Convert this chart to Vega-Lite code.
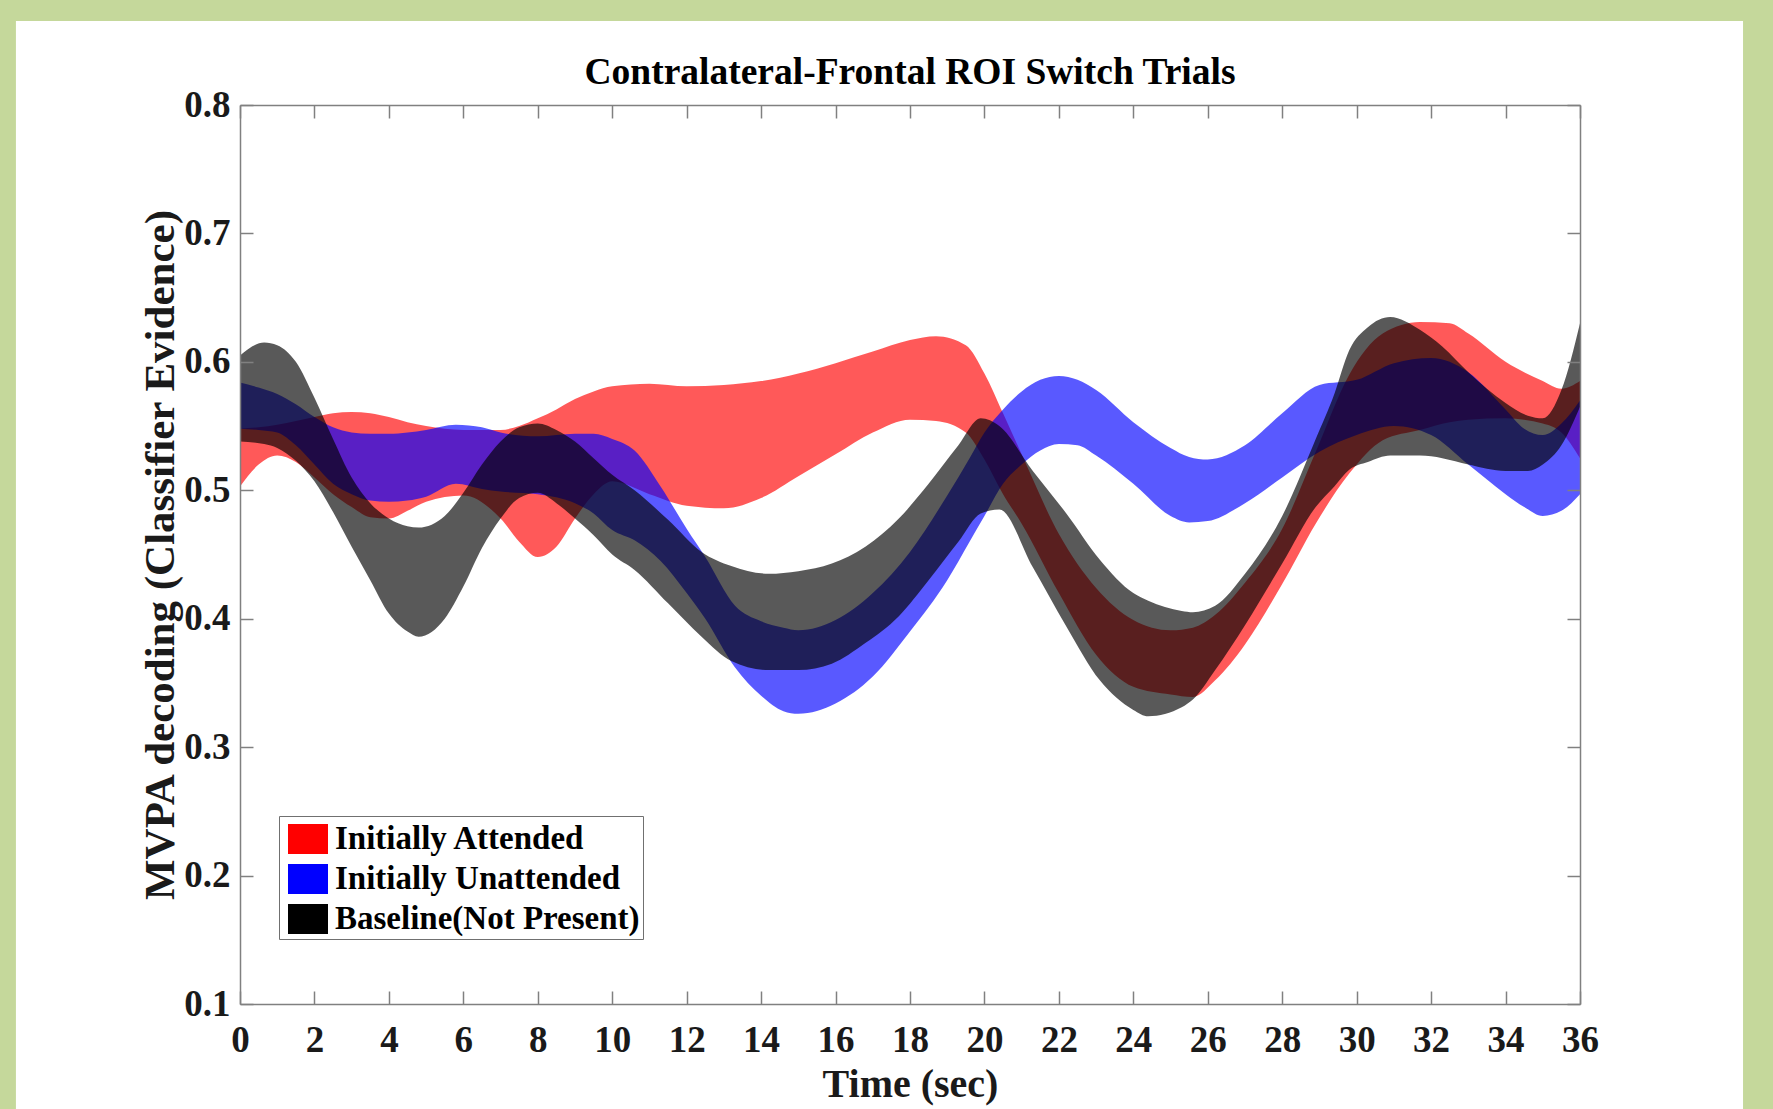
{
  "$schema": "https://vega.github.io/schema/vega-lite/v6.json",
  "width": 1340,
  "height": 899,
  "autosize": {"type": "none"},
  "padding": {"left": 240, "top": 105, "right": 193, "bottom": 105},
  "background": "#c5d89b",
  "title": {
    "text": "Contralateral-Frontal ROI Switch Trials",
    "font": "Liberation Serif",
    "fontSize": 37.5,
    "fontWeight": "bold",
    "color": "#000000",
    "anchor": "middle",
    "frame": "group",
    "baseline": "alphabetic",
    "offset": 0,
    "dy": 100
  },
  "config": {
    "view": {"stroke": null},
    "axis": {
      "grid": false,
      "domainColor": "#808080",
      "domainWidth": 1.5,
      "tickColor": "#808080",
      "tickWidth": 1.5,
      "tickSize": -13,
      "labelFont": "Liberation Serif",
      "labelFontWeight": "bold",
      "labelFontSize": 37,
      "labelColor": "#1a1a1a",
      "labelFlush": false,
      "labelOverlap": false,
      "titleFont": "Liberation Serif",
      "titleFontWeight": "bold",
      "titleFontSize": 40,
      "titleColor": "#1a1a1a"
    }
  },
  "datasets": {
    "bands": [
      {"series": "Initially Attended", "t": 0, "lo": 0.503, "hi": 0.548},
      {"series": "Initially Attended", "t": 0.5, "lo": 0.520, "hi": 0.549},
      {"series": "Initially Attended", "t": 1, "lo": 0.527, "hi": 0.551},
      {"series": "Initially Attended", "t": 1.5, "lo": 0.522, "hi": 0.554},
      {"series": "Initially Attended", "t": 2, "lo": 0.510, "hi": 0.557},
      {"series": "Initially Attended", "t": 2.5, "lo": 0.497, "hi": 0.560},
      {"series": "Initially Attended", "t": 3, "lo": 0.487, "hi": 0.561},
      {"series": "Initially Attended", "t": 3.5, "lo": 0.479, "hi": 0.560},
      {"series": "Initially Attended", "t": 4, "lo": 0.478, "hi": 0.557},
      {"series": "Initially Attended", "t": 4.5, "lo": 0.484, "hi": 0.553},
      {"series": "Initially Attended", "t": 5, "lo": 0.491, "hi": 0.550},
      {"series": "Initially Attended", "t": 6, "lo": 0.496, "hi": 0.547},
      {"series": "Initially Attended", "t": 7, "lo": 0.478, "hi": 0.547},
      {"series": "Initially Attended", "t": 7.5, "lo": 0.460, "hi": 0.550},
      {"series": "Initially Attended", "t": 8, "lo": 0.448, "hi": 0.556},
      {"series": "Initially Attended", "t": 8.5, "lo": 0.456, "hi": 0.563},
      {"series": "Initially Attended", "t": 9, "lo": 0.478, "hi": 0.571},
      {"series": "Initially Attended", "t": 9.5, "lo": 0.497, "hi": 0.577},
      {"series": "Initially Attended", "t": 10, "lo": 0.507, "hi": 0.581},
      {"series": "Initially Attended", "t": 11, "lo": 0.497, "hi": 0.583},
      {"series": "Initially Attended", "t": 12, "lo": 0.488, "hi": 0.581},
      {"series": "Initially Attended", "t": 13, "lo": 0.486, "hi": 0.582},
      {"series": "Initially Attended", "t": 14, "lo": 0.494, "hi": 0.585},
      {"series": "Initially Attended", "t": 15, "lo": 0.511, "hi": 0.591},
      {"series": "Initially Attended", "t": 16, "lo": 0.528, "hi": 0.599},
      {"series": "Initially Attended", "t": 17, "lo": 0.545, "hi": 0.608},
      {"series": "Initially Attended", "t": 18, "lo": 0.555, "hi": 0.617},
      {"series": "Initially Attended", "t": 18.7, "lo": 0.554, "hi": 0.620},
      {"series": "Initially Attended", "t": 19.5, "lo": 0.545, "hi": 0.613},
      {"series": "Initially Attended", "t": 20, "lo": 0.524, "hi": 0.591},
      {"series": "Initially Attended", "t": 20.5, "lo": 0.497, "hi": 0.560},
      {"series": "Initially Attended", "t": 21, "lo": 0.474, "hi": 0.528},
      {"series": "Initially Attended", "t": 22, "lo": 0.420, "hi": 0.466},
      {"series": "Initially Attended", "t": 23, "lo": 0.372, "hi": 0.424},
      {"series": "Initially Attended", "t": 24, "lo": 0.347, "hi": 0.399},
      {"series": "Initially Attended", "t": 25, "lo": 0.341, "hi": 0.391},
      {"series": "Initially Attended", "t": 25.6, "lo": 0.339, "hi": 0.393},
      {"series": "Initially Attended", "t": 26.2, "lo": 0.352, "hi": 0.403},
      {"series": "Initially Attended", "t": 27, "lo": 0.380, "hi": 0.428},
      {"series": "Initially Attended", "t": 28, "lo": 0.427, "hi": 0.470},
      {"series": "Initially Attended", "t": 28.9, "lo": 0.474, "hi": 0.530},
      {"series": "Initially Attended", "t": 29.8, "lo": 0.513, "hi": 0.590},
      {"series": "Initially Attended", "t": 30.7, "lo": 0.539, "hi": 0.622},
      {"series": "Initially Attended", "t": 31.7, "lo": 0.547, "hi": 0.631},
      {"series": "Initially Attended", "t": 32.5, "lo": 0.553, "hi": 0.630},
      {"series": "Initially Attended", "t": 33, "lo": 0.555, "hi": 0.622},
      {"series": "Initially Attended", "t": 34, "lo": 0.556, "hi": 0.600},
      {"series": "Initially Attended", "t": 35, "lo": 0.552, "hi": 0.585},
      {"series": "Initially Attended", "t": 35.5, "lo": 0.545, "hi": 0.579},
      {"series": "Initially Attended", "t": 36, "lo": 0.525, "hi": 0.585},

      {"series": "Initially Unattended", "t": 0, "lo": 0.548, "hi": 0.584},
      {"series": "Initially Unattended", "t": 0.5, "lo": 0.547, "hi": 0.580},
      {"series": "Initially Unattended", "t": 1, "lo": 0.545, "hi": 0.575},
      {"series": "Initially Unattended", "t": 1.5, "lo": 0.535, "hi": 0.567},
      {"series": "Initially Unattended", "t": 2, "lo": 0.520, "hi": 0.557},
      {"series": "Initially Unattended", "t": 2.5, "lo": 0.505, "hi": 0.549},
      {"series": "Initially Unattended", "t": 3, "lo": 0.497, "hi": 0.545},
      {"series": "Initially Unattended", "t": 3.5, "lo": 0.492, "hi": 0.544},
      {"series": "Initially Unattended", "t": 4, "lo": 0.491, "hi": 0.544},
      {"series": "Initially Unattended", "t": 4.5, "lo": 0.492, "hi": 0.545},
      {"series": "Initially Unattended", "t": 5, "lo": 0.495, "hi": 0.547},
      {"series": "Initially Unattended", "t": 5.8, "lo": 0.505, "hi": 0.551},
      {"series": "Initially Unattended", "t": 6.5, "lo": 0.501, "hi": 0.549},
      {"series": "Initially Unattended", "t": 7, "lo": 0.499, "hi": 0.545},
      {"series": "Initially Unattended", "t": 8, "lo": 0.497, "hi": 0.542},
      {"series": "Initially Unattended", "t": 9, "lo": 0.490, "hi": 0.544},
      {"series": "Initially Unattended", "t": 9.5, "lo": 0.482, "hi": 0.544},
      {"series": "Initially Unattended", "t": 10, "lo": 0.469, "hi": 0.540},
      {"series": "Initially Unattended", "t": 10.6, "lo": 0.461, "hi": 0.531},
      {"series": "Initially Unattended", "t": 11.3, "lo": 0.445, "hi": 0.503},
      {"series": "Initially Unattended", "t": 12, "lo": 0.420, "hi": 0.470},
      {"series": "Initially Unattended", "t": 12.5, "lo": 0.400, "hi": 0.448},
      {"series": "Initially Unattended", "t": 13.3, "lo": 0.362, "hi": 0.410},
      {"series": "Initially Unattended", "t": 14, "lo": 0.340, "hi": 0.398},
      {"series": "Initially Unattended", "t": 14.6, "lo": 0.328, "hi": 0.393},
      {"series": "Initially Unattended", "t": 15, "lo": 0.326, "hi": 0.391},
      {"series": "Initially Unattended", "t": 16, "lo": 0.334, "hi": 0.399},
      {"series": "Initially Unattended", "t": 17, "lo": 0.355, "hi": 0.420},
      {"series": "Initially Unattended", "t": 18, "lo": 0.390, "hi": 0.452},
      {"series": "Initially Unattended", "t": 19, "lo": 0.430, "hi": 0.496},
      {"series": "Initially Unattended", "t": 19.6, "lo": 0.460, "hi": 0.525},
      {"series": "Initially Unattended", "t": 20, "lo": 0.480, "hi": 0.545},
      {"series": "Initially Unattended", "t": 20.5, "lo": 0.505, "hi": 0.563},
      {"series": "Initially Unattended", "t": 21, "lo": 0.520, "hi": 0.577},
      {"series": "Initially Unattended", "t": 21.5, "lo": 0.531, "hi": 0.586},
      {"series": "Initially Unattended", "t": 22, "lo": 0.536, "hi": 0.589},
      {"series": "Initially Unattended", "t": 22.5, "lo": 0.535, "hi": 0.586},
      {"series": "Initially Unattended", "t": 23, "lo": 0.527, "hi": 0.578},
      {"series": "Initially Unattended", "t": 24, "lo": 0.505, "hi": 0.553},
      {"series": "Initially Unattended", "t": 25, "lo": 0.480, "hi": 0.533},
      {"series": "Initially Unattended", "t": 25.5, "lo": 0.475, "hi": 0.526},
      {"series": "Initially Unattended", "t": 26, "lo": 0.476, "hi": 0.524},
      {"series": "Initially Unattended", "t": 27, "lo": 0.490, "hi": 0.535},
      {"series": "Initially Unattended", "t": 28, "lo": 0.510, "hi": 0.560},
      {"series": "Initially Unattended", "t": 29, "lo": 0.530, "hi": 0.582},
      {"series": "Initially Unattended", "t": 30, "lo": 0.543, "hi": 0.586},
      {"series": "Initially Unattended", "t": 31, "lo": 0.550, "hi": 0.599},
      {"series": "Initially Unattended", "t": 32, "lo": 0.543, "hi": 0.603},
      {"series": "Initially Unattended", "t": 33, "lo": 0.520, "hi": 0.592},
      {"series": "Initially Unattended", "t": 34, "lo": 0.497, "hi": 0.563},
      {"series": "Initially Unattended", "t": 34.5, "lo": 0.487, "hi": 0.548},
      {"series": "Initially Unattended", "t": 35, "lo": 0.480, "hi": 0.543},
      {"series": "Initially Unattended", "t": 35.5, "lo": 0.484, "hi": 0.552},
      {"series": "Initially Unattended", "t": 36, "lo": 0.497, "hi": 0.570},

      {"series": "Baseline(Not Present)", "t": 0, "lo": 0.538, "hi": 0.605},
      {"series": "Baseline(Not Present)", "t": 0.65, "lo": 0.536, "hi": 0.615},
      {"series": "Baseline(Not Present)", "t": 1, "lo": 0.533, "hi": 0.613},
      {"series": "Baseline(Not Present)", "t": 1.5, "lo": 0.523, "hi": 0.600},
      {"series": "Baseline(Not Present)", "t": 2, "lo": 0.507, "hi": 0.572},
      {"series": "Baseline(Not Present)", "t": 2.5, "lo": 0.483, "hi": 0.540},
      {"series": "Baseline(Not Present)", "t": 3, "lo": 0.456, "hi": 0.510},
      {"series": "Baseline(Not Present)", "t": 3.5, "lo": 0.430, "hi": 0.490},
      {"series": "Baseline(Not Present)", "t": 4, "lo": 0.404, "hi": 0.478},
      {"series": "Baseline(Not Present)", "t": 4.5, "lo": 0.390, "hi": 0.472},
      {"series": "Baseline(Not Present)", "t": 4.8, "lo": 0.386, "hi": 0.471},
      {"series": "Baseline(Not Present)", "t": 5.5, "lo": 0.400, "hi": 0.480},
      {"series": "Baseline(Not Present)", "t": 6, "lo": 0.425, "hi": 0.498},
      {"series": "Baseline(Not Present)", "t": 6.5, "lo": 0.455, "hi": 0.520},
      {"series": "Baseline(Not Present)", "t": 7, "lo": 0.478, "hi": 0.538},
      {"series": "Baseline(Not Present)", "t": 7.5, "lo": 0.494, "hi": 0.549},
      {"series": "Baseline(Not Present)", "t": 8, "lo": 0.498, "hi": 0.552},
      {"series": "Baseline(Not Present)", "t": 8.5, "lo": 0.490, "hi": 0.547},
      {"series": "Baseline(Not Present)", "t": 9, "lo": 0.478, "hi": 0.538},
      {"series": "Baseline(Not Present)", "t": 9.5, "lo": 0.465, "hi": 0.525},
      {"series": "Baseline(Not Present)", "t": 10, "lo": 0.450, "hi": 0.512},
      {"series": "Baseline(Not Present)", "t": 10.6, "lo": 0.438, "hi": 0.500},
      {"series": "Baseline(Not Present)", "t": 11.5, "lo": 0.412, "hi": 0.477},
      {"series": "Baseline(Not Present)", "t": 12.4, "lo": 0.386, "hi": 0.452},
      {"series": "Baseline(Not Present)", "t": 13.2, "lo": 0.367, "hi": 0.441},
      {"series": "Baseline(Not Present)", "t": 14.2, "lo": 0.360, "hi": 0.435},
      {"series": "Baseline(Not Present)", "t": 15, "lo": 0.360, "hi": 0.437},
      {"series": "Baseline(Not Present)", "t": 15.9, "lo": 0.365, "hi": 0.443},
      {"series": "Baseline(Not Present)", "t": 16.8, "lo": 0.381, "hi": 0.456},
      {"series": "Baseline(Not Present)", "t": 17.7, "lo": 0.402, "hi": 0.478},
      {"series": "Baseline(Not Present)", "t": 18.5, "lo": 0.430, "hi": 0.505},
      {"series": "Baseline(Not Present)", "t": 19.3, "lo": 0.460, "hi": 0.535},
      {"series": "Baseline(Not Present)", "t": 19.9, "lo": 0.482, "hi": 0.556},
      {"series": "Baseline(Not Present)", "t": 20.4, "lo": 0.485, "hi": 0.550},
      {"series": "Baseline(Not Present)", "t": 21.3, "lo": 0.440, "hi": 0.515},
      {"series": "Baseline(Not Present)", "t": 22.2, "lo": 0.394, "hi": 0.482},
      {"series": "Baseline(Not Present)", "t": 23.1, "lo": 0.352, "hi": 0.446},
      {"series": "Baseline(Not Present)", "t": 24, "lo": 0.329, "hi": 0.420},
      {"series": "Baseline(Not Present)", "t": 24.4, "lo": 0.324, "hi": 0.414},
      {"series": "Baseline(Not Present)", "t": 25.3, "lo": 0.331, "hi": 0.406},
      {"series": "Baseline(Not Present)", "t": 25.6, "lo": 0.337, "hi": 0.405},
      {"series": "Baseline(Not Present)", "t": 26.2, "lo": 0.360, "hi": 0.410},
      {"series": "Baseline(Not Present)", "t": 27, "lo": 0.395, "hi": 0.435},
      {"series": "Baseline(Not Present)", "t": 28, "lo": 0.443, "hi": 0.480},
      {"series": "Baseline(Not Present)", "t": 28.9, "lo": 0.487, "hi": 0.540},
      {"series": "Baseline(Not Present)", "t": 29.4, "lo": 0.503, "hi": 0.575},
      {"series": "Baseline(Not Present)", "t": 29.8, "lo": 0.516, "hi": 0.609},
      {"series": "Baseline(Not Present)", "t": 30.3, "lo": 0.522, "hi": 0.627},
      {"series": "Baseline(Not Present)", "t": 30.9, "lo": 0.527, "hi": 0.635},
      {"series": "Baseline(Not Present)", "t": 31.7, "lo": 0.527, "hi": 0.625},
      {"series": "Baseline(Not Present)", "t": 32.3, "lo": 0.525, "hi": 0.612},
      {"series": "Baseline(Not Present)", "t": 33, "lo": 0.520, "hi": 0.592},
      {"series": "Baseline(Not Present)", "t": 34, "lo": 0.515, "hi": 0.568},
      {"series": "Baseline(Not Present)", "t": 34.6, "lo": 0.515, "hi": 0.558},
      {"series": "Baseline(Not Present)", "t": 35, "lo": 0.520, "hi": 0.556},
      {"series": "Baseline(Not Present)", "t": 35.5, "lo": 0.535, "hi": 0.578},
      {"series": "Baseline(Not Present)", "t": 36, "lo": 0.565, "hi": 0.630}
    ]
  },
  "layer": [
    {
      "data": {"values": [{}]},
      "mark": {"type": "rect", "fill": "#ffffff", "clip": false},
      "encoding": {
        "x": {"datum": -6.02, "type": "quantitative", "scale": {"domain": [0, 36], "nice": false, "zero": false}, "axis": null},
        "x2": {"datum": 40.38},
        "y": {"datum": 0.8654, "type": "quantitative", "scale": {"domain": [0.1, 0.8], "nice": false, "zero": false}, "axis": null},
        "y2": {"datum": 0.0}
      }
    },
    {
      "data": {"name": "bands"},
      "transform": [{"filter": "datum.series === 'Initially Attended'"}],
      "mark": {"type": "area", "interpolate": "monotone", "fillOpacity": 0.65},
      "encoding": {
        "x": {
          "field": "t", "type": "quantitative",
          "scale": {"domain": [0, 36], "nice": false, "zero": false},
          "axis": {"orient": "bottom", "zindex": 1, "values": [0,2,4,6,8,10,12,14,16,18,20,22,24,26,28,30,32,34,36], "labelPadding": 31, "title": "Time (sec)", "titlePadding": 6}
        },
        "y": {
          "field": "hi", "type": "quantitative",
          "scale": {"domain": [0.1, 0.8], "nice": false, "zero": false},
          "axis": {"orient": "left", "zindex": 1, "values": [0.1,0.2,0.3,0.4,0.5,0.6,0.7,0.8], "format": ".1f", "labelPadding": 23, "title": "MVPA decoding (Classifier Evidence)", "titleFontSize": 43, "titlePadding": 1}
        },
        "y2": {"field": "lo"},
        "color": {
          "field": "series", "type": "nominal",
          "scale": {"domain": ["Initially Attended", "Initially Unattended", "Baseline(Not Present)"], "range": ["#ff0000", "#0000ff", "#000000"]},
          "legend": {
            "orient": "none", "legendX": 39, "legendY": 711,
            "title": null,
            "symbolType": "M-1,-0.75H1V0.75H-1Z",
            "symbolSize": 1600,
            "symbolOpacity": 1,
            "symbolStrokeWidth": 0,
            "symbolOffset": 6,
            "labelFont": "Liberation Serif",
            "labelFontSize": 33,
            "labelFontWeight": "bold",
            "labelColor": "#000000",
            "labelOffset": 7,
            "labelLimit": 0,
            "rowPadding": 3,
            "padding": 3,
            "strokeColor": "#707070",
            "fillColor": "#ffffff"
          }
        }
      }
    },
    {
      "data": {"name": "bands"},
      "transform": [{"filter": "datum.series === 'Initially Unattended'"}],
      "mark": {"type": "area", "interpolate": "monotone", "fillOpacity": 0.65},
      "encoding": {
        "x": {
          "field": "t", "type": "quantitative",
          "scale": {"domain": [0, 36], "nice": false, "zero": false},
          "axis": {"orient": "top", "zindex": 1, "values": [0,2,4,6,8,10,12,14,16,18,20,22,24,26,28,30,32,34,36], "labels": false, "title": null}
        },
        "y": {
          "field": "hi", "type": "quantitative",
          "scale": {"domain": [0.1, 0.8], "nice": false, "zero": false},
          "axis": {"orient": "right", "zindex": 1, "values": [0.1,0.2,0.3,0.4,0.5,0.6,0.7,0.8], "labels": false, "title": null}
        },
        "y2": {"field": "lo"},
        "color": {"field": "series", "type": "nominal", "scale": {"domain": ["Initially Attended", "Initially Unattended", "Baseline(Not Present)"], "range": ["#ff0000", "#0000ff", "#000000"]}}
      }
    },
    {
      "data": {"name": "bands"},
      "transform": [{"filter": "datum.series === 'Baseline(Not Present)'"}],
      "mark": {"type": "area", "interpolate": "monotone", "fillOpacity": 0.65},
      "encoding": {
        "x": {"field": "t", "type": "quantitative", "scale": {"domain": [0, 36], "nice": false, "zero": false}, "axis": null},
        "y": {"field": "hi", "type": "quantitative", "scale": {"domain": [0.1, 0.8], "nice": false, "zero": false}, "axis": null},
        "y2": {"field": "lo"},
        "color": {"field": "series", "type": "nominal", "scale": {"domain": ["Initially Attended", "Initially Unattended", "Baseline(Not Present)"], "range": ["#ff0000", "#0000ff", "#000000"]}}
      }
    }
  ]
}
